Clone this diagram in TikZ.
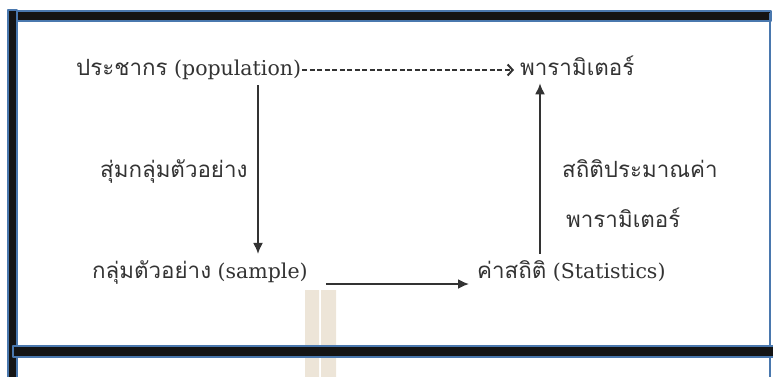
\documentclass[tikz,border=0pt]{standalone}
\usepackage{fontspec}
\setmainfont{DejaVu Serif}
\newfontfamily\thai[Script=Thai, Scale=1.09]{Loma}
\usetikzlibrary{arrows.meta,positioning}
\definecolor{frameblue}{HTML}{4A78AE}
\definecolor{barblack}{HTML}{141414}
\definecolor{inkgray}{HTML}{333333}
\definecolor{wmbeige}{HTML}{EDE5D8}
\tikzset{
  lbl/.style={inner sep=0pt, anchor=base west, text=inkgray, font=\fontsize{20.5}{24}\selectfont},
  bar/.style={draw=frameblue, fill=barblack, line width=1.5pt},
  link/.style={-{Latex[length=11pt,width=10pt]}, line width=1.8pt, draw=inkgray},
  guess/.style={-{Straight Barb[length=5pt,width=11pt]}, line width=2pt, draw=inkgray, dash pattern=on 5pt off 2.5pt},
}
\begin{document}
\begin{tikzpicture}[x=1pt, y=-1pt, line join=round]
  \useasboundingbox (0,0) rectangle (773,376);
  % frame and watermark
  \fill[wmbeige] (305,290) rectangle (319,380) (321,290) rectangle (336,380);
  \draw[bar] (8,10) rectangle (17,385);
  \draw[bar] (17,11) rectangle (771,21);
  \draw[frameblue, line width=1.5pt] (770,13) -- (770,385);
  \draw[bar] (13,346) rectangle (785,357);

  % labels
  \node[lbl] (pop)  at (76,75)   {{\thai ประชากร} (population)};
  \node[lbl] (par)  at (520,75)  {\thai พารามิเตอร์};
  \node[lbl] (draw) at (100,177) {\thai สุ่มกลุ่มตัวอย่าง};
  \node[lbl] (samp) at (92,278)  {{\thai กลุ่มตัวอย่าง} (sample)};
  \node[lbl] (stat) at (477,278) {{\thai ค่าสถิติ} (Statistics)};
  \node[lbl] (est)  at (562,177) {\thai สถิติประมาณค่า};
  \node[lbl] (estb) at (566,227) {\thai พารามิเตอร์};

  \coordinate (dn) at (258,0);
  \coordinate (up) at (540,0);

  % arrows
  \draw[guess] ([xshift=1pt,yshift=5pt]pop.base east) -- ([xshift=-6pt,yshift=5pt]par.base west);
  \draw[link] ([yshift=-6pt]pop.south -| dn) -- ([yshift=6pt]samp.north -| dn);
  \draw[link] ([xshift=18pt,yshift=-6pt]samp.base east) -- ([xshift=-8pt,yshift=-6pt]stat.base west);
  \draw[link] ([yshift=6pt]stat.north -| up) -- ([yshift=-8pt]par.south -| up);
\end{tikzpicture}
\end{document}
